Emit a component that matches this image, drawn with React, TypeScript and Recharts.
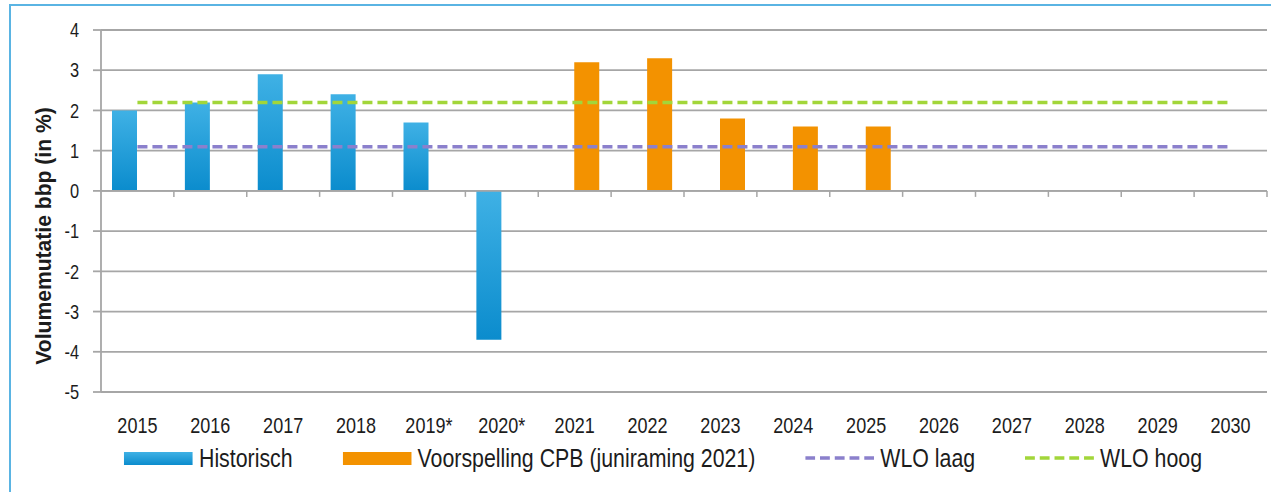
import React from 'react';
import {
  ComposedChart, Bar, Line, XAxis, YAxis, CartesianGrid, ReferenceLine, Legend,
} from 'recharts';

const years = ['2015', '2016', '2017', '2018', '2019*', '2020*', '2021', '2022', '2023', '2024', '2025', '2026', '2027', '2028', '2029', '2030'];
const historisch = [2.0, 2.2, 2.9, 2.4, 1.7, -3.7, null, null, null, null, null, null, null, null, null, null];
const voorspelling = [null, null, null, null, null, null, 3.2, 3.3, 1.8, 1.6, 1.6, null, null, null, null, null];
const wloLaag = [1.1, 1.1, 1.1, 1.1, 1.1, 1.1, 1.1, 1.1, 1.1, 1.1, 1.1, 1.1, 1.1, 1.1, 1.1, 1.1];
const wloHoog = [2.2, 2.2, 2.2, 2.2, 2.2, 2.2, 2.2, 2.2, 2.2, 2.2, 2.2, 2.2, 2.2, 2.2, 2.2, 2.2];
const yTicks = [-5, -4, -3, -2, -1, 0, 1, 2, 3, 4];

const data = years.map((year, i) => ({
  year,
  historisch: historisch[i],
  voorspelling: voorspelling[i],
  laag: wloLaag[i],
  hoog: wloHoog[i],
}));

// Arial Narrow look: Liberation Sans squeezed horizontally
const FONT = "'Liberation Sans', Arial, sans-serif";
const NARROW = 0.82;
const GRID = '#a6a6a6';
const BLUE = '#1f9bd8';
const ORANGE = '#f39200';
const PURPLE = '#8b80cc';
const GREEN = '#a2d63a';
const TEXT = '#1c1c1c';

const legendItems = [
  { name: 'Historisch', color: BLUE, kind: 'bar' },
  { name: 'Voorspelling CPB (juniraming 2021)', color: ORANGE, kind: 'bar' },
  { name: 'WLO laag', color: PURPLE, kind: 'dash' },
  { name: 'WLO hoog', color: GREEN, kind: 'dash' },
];

function ChartLegend() {
  const k = 1 / NARROW;
  return (
    <div style={{ width: 1271, height: 30, overflow: 'visible' }}>
      <div style={{
        display: 'flex', alignItems: 'center', paddingLeft: 124 * k, width: 1271 * k, height: 30,
        transform: `scaleX(${NARROW})`, transformOrigin: '0 0',
        fontFamily: FONT, fontSize: 26, color: TEXT, whiteSpace: 'nowrap',
      }}>
        {legendItems.map((it) => (
          <div key={it.name} style={{ display: 'flex', alignItems: 'center', marginRight: 50 * k }}>
            <svg width={69 * k} height={14} style={{ marginRight: 6 * k }}>
              {it.kind === 'bar' ? (
                <rect x={0} y={1} width={69 * k} height={13} fill={it.color === BLUE ? 'url(#blueGrad)' : it.color} />
              ) : (
                <line x1={0} y1={7} x2={69 * k} y2={7} stroke={it.color} strokeWidth={3.5} strokeDasharray="12 6" />
              )}
            </svg>
            <span>{it.name}</span>
          </div>
        ))}
      </div>
    </div>
  );
}

function XTick(props: any) {
  const { x, y, payload } = props;
  return (
    <text transform={`translate(${x},${y}) scale(${NARROW},1)`} textAnchor="middle" dy="0.71em"
      style={{ fontFamily: FONT, fontSize: 22, fill: TEXT }}>
      {payload.value}
    </text>
  );
}

function YTick(props: any) {
  const { x, y, payload } = props;
  return (
    <text transform={`translate(${x},${y}) scale(${NARROW},1)`} textAnchor="end" dy="0.36em"
      style={{ fontFamily: FONT, fontSize: 20, fill: TEXT }}>
      {payload.value}
    </text>
  );
}

// zero axis with Excel-style tick marks between the categories
function ZeroAxis(props: any) {
  const { x1, y1, x2 } = props;
  const n = years.length;
  const step = (x2 - x1) / n;
  const marks = [];
  for (let k = 1; k <= n; k++) {
    const x = x1 + step * k;
    marks.push(<line key={k} x1={x} y1={y1} x2={x} y2={y1 + 6} stroke={GRID} strokeWidth={1.5} />);
  }
  return (
    <g>
      <line x1={x1} y1={y1} x2={x2} y2={y1} stroke={GRID} strokeWidth={1.8} />
      {marks}
    </g>
  );
}

function YLabel(props: any) {
  const { viewBox } = props;
  const cx = viewBox.x - 18;
  const cy = viewBox.y + viewBox.height / 2 + 25;
  return (
    <text transform={`translate(${cx},${cy}) rotate(-90) scale(0.96,1)`} textAnchor="middle" dy="0.36em"
      style={{ fontFamily: FONT, fontSize: 22, fontWeight: 'bold', fill: TEXT }}>
      Volumemutatie bbp (in %)
    </text>
  );
}

export default function App() {
  return (
    <div style={{ position: 'absolute', left: 0, top: 0, width: 1271, height: 492, overflow: 'hidden', background: '#fff' }}>
      <div style={{ position: 'absolute', left: 9, top: 4, width: 1400, height: 600, borderLeft: '2px solid #5ab4e3', borderTop: '2px solid #5ab4e3' }} />
      <ComposedChart width={1271} height={492} data={data} barGap={0} barSize={25}
        margin={{ top: 30, right: 4, bottom: 30, left: 61 }}>
        <defs>
          <linearGradient id="blueGrad" x1="0" y1="0" x2="0" y2="1">
            <stop offset="0%" stopColor="#3fb1e5" />
            <stop offset="100%" stopColor="#0b8ccd" />
          </linearGradient>
        </defs>
        <CartesianGrid vertical={false} stroke={GRID} strokeWidth={1.8} />
        <XAxis dataKey="year" axisLine={false} tickLine={false} height={40} tickMargin={19}
          interval={0} tick={<XTick />} />
        <YAxis domain={[-5, 4]} ticks={yTicks} width={40} interval={0}
          axisLine={{ stroke: GRID, strokeWidth: 1.8 }} tickLine={{ stroke: GRID, strokeWidth: 1.8 }}
          tickSize={8} tickMargin={14} tick={<YTick />}
          label={<YLabel />} />
        <ReferenceLine y={0} shape={<ZeroAxis />} />
        <Bar dataKey="historisch" name="Historisch" fill="url(#blueGrad)" isAnimationActive={false} />
        <Bar dataKey="voorspelling" name="Voorspelling CPB (juniraming 2021)" fill={ORANGE} isAnimationActive={false} />
        <Line dataKey="laag" name="WLO laag" stroke={PURPLE} strokeWidth={3.5} strokeDasharray="10 5" dot={false} activeDot={false} isAnimationActive={false} />
        <Line dataKey="hoog" name="WLO hoog" stroke={GREEN} strokeWidth={3.5} strokeDasharray="10 5" dot={false} activeDot={false} isAnimationActive={false} />
        <Legend verticalAlign="bottom" height={30} content={<ChartLegend />} wrapperStyle={{ bottom: 19, left: 0, width: 1271 }} />
      </ComposedChart>
    </div>
  );
}
